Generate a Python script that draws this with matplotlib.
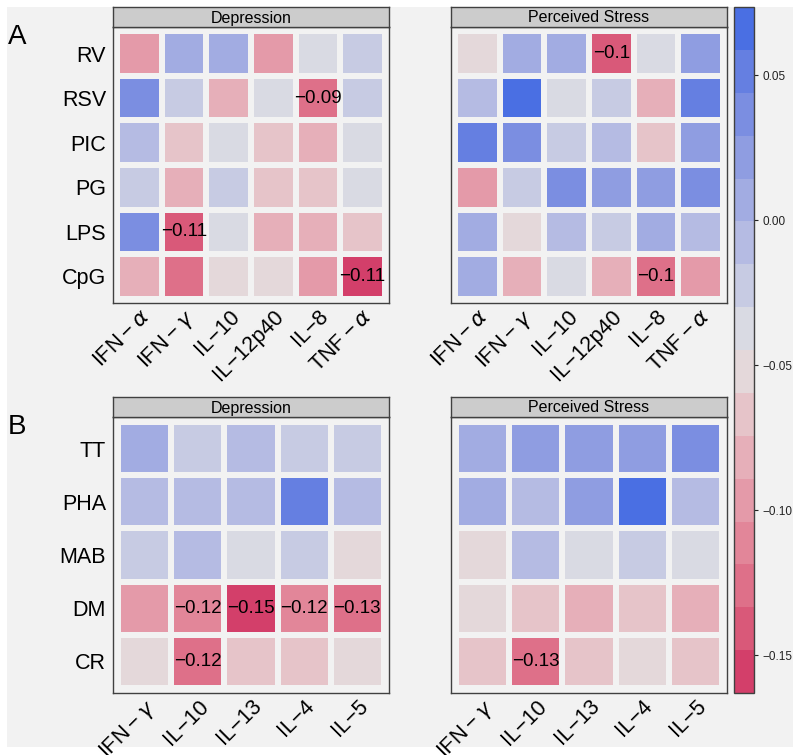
import numpy as np
import matplotlib
matplotlib.use("Agg")
import matplotlib.pyplot as plt
from matplotlib.colors import ListedColormap, BoundaryNorm
from matplotlib.cm import ScalarMappable
from matplotlib.patches import Rectangle
from matplotlib.transforms import ScaledTranslation

plt.rcParams['font.family'] = ['Liberation Sans', 'DejaVu Sans']
plt.rcParams['mathtext.fontset'] = 'dejavusans'

# ---------------- data ----------------
a_rows = ["RV", "RSV", "PIC", "PG", "LPS", "CpG"]
a_cols = ["IFN\u2009\u2212\u2009$\\alpha$", "IFN\u2009\u2212\u2009$\\gamma$", "IL\u221210",
          "IL\u221212p40", "IL\u22128", "TNF\u2009\u2212\u2009$\\alpha$"]
b_rows = ["TT", "PHA", "MAB", "DM", "CR"]
b_cols = ["IFN\u2009\u2212\u2009$\\gamma$", "IL\u221210", "IL\u221213", "IL\u22124", "IL\u22125"]
facets = ["Depression", "Perceived Stress"]

a_dep = [
    [-0.097, 0.007, 0.007, -0.097, -0.037, -0.023],
    [0.037, -0.023, -0.082, -0.037, -0.126, -0.023],
    [-0.008, -0.067, -0.037, -0.067, -0.082, -0.037],
    [-0.023, -0.082, -0.023, -0.067, -0.067, -0.037],
    [0.037, -0.141, -0.037, -0.082, -0.082, -0.067],
    [-0.082, -0.126, -0.052, -0.052, -0.097, -0.156],
]
a_ps = [
    [-0.052, 0.007, 0.007, -0.141, -0.037, 0.022],
    [-0.008, 0.066, -0.037, -0.023, -0.082, 0.051],
    [0.051, 0.037, -0.023, -0.008, -0.067, 0.022],
    [-0.097, -0.023, 0.037, 0.022, 0.022, 0.037],
    [0.007, -0.052, -0.008, -0.023, 0.007, -0.008],
    [0.007, -0.082, -0.037, -0.082, -0.126, -0.097],
]
b_dep = [
    [0.007, -0.023, -0.008, -0.023, -0.023],
    [-0.008, -0.008, -0.008, 0.051, -0.008],
    [-0.023, -0.008, -0.037, -0.023, -0.052],
    [-0.097, -0.117, -0.152, -0.117, -0.128],
    [-0.052, -0.124, -0.067, -0.067, -0.052],
]
b_ps = [
    [0.007, 0.022, 0.022, 0.022, 0.037],
    [0.007, -0.008, 0.022, 0.066, -0.008],
    [-0.052, -0.008, -0.037, -0.023, -0.037],
    [-0.052, -0.067, -0.082, -0.067, -0.082],
    [-0.067, -0.130, -0.067, -0.052, -0.067],
]

# printed labels (None = no label)
N = None
a_dep_lab = [
    [N, N, N, N, N, N],
    [N, N, N, N, -0.09, N],
    [N, N, N, N, N, N],
    [N, N, N, N, N, N],
    [N, -0.11, N, N, N, N],
    [N, N, N, N, N, -0.11],
]
a_ps_lab = [
    [N, N, N, -0.1, N, N],
    [N, N, N, N, N, N],
    [N, N, N, N, N, N],
    [N, N, N, N, N, N],
    [N, N, N, N, N, N],
    [N, N, N, N, -0.1, N],
]
b_dep_lab = [
    [N, N, N, N, N],
    [N, N, N, N, N],
    [N, N, N, N, N],
    [N, -0.12, -0.15, -0.12, -0.13],
    [N, -0.12, N, N, N],
]
b_ps_lab = [
    [N, N, N, N, N],
    [N, N, N, N, N],
    [N, N, N, N, N],
    [N, N, N, N, N],
    [N, -0.13, N, N, N],
]

key_ticks = [0.05, 0.00, -0.05, -0.10, -0.15]
KEY_MIN, KEY_MAX, N_BINS = -0.163, 0.0735, 16

# ---------------- colours (diverging HCL "Blue-Red 2") ----------------
def polarluv_to_rgb(L, C, H):
    XN, YN, ZN = 95.047, 100.0, 108.883
    h = np.deg2rad(H)
    U, V = C * np.cos(h), C * np.sin(h)
    Y = YN * ((L + 16) / 116) ** 3 if L > 8 else YN * L / 903.3
    den = XN + 15 * YN + 3 * ZN
    un, vn = 4 * XN / den, 9 * YN / den
    u = U / (13 * L) + un
    v = V / (13 * L) + vn
    X = 9.0 * Y * u / (4 * v)
    Z = -X / 3 - 5 * Y + 3 * Y / v
    X, Y, Z = X / 100, Y / 100, Z / 100
    rgb = np.array([3.240479 * X - 1.537150 * Y - 0.498535 * Z,
                    -0.969256 * X + 1.875992 * Y + 0.041556 * Z,
                    0.055648 * X - 0.204043 * Y + 1.057311 * Z])
    out = np.where(rgb <= 0.0031308, 12.92 * rgb, 1.055 * np.abs(rgb) ** (1 / 2.4) - 0.055)
    return np.clip(out, 0, 1)

def diverging_hcl(n, h1=260, h2=0, c1=100, l1=50, l2=90, p=1.0):
    cols = []
    for i in np.linspace(1, -1, n):
        a = abs(i)
        cols.append(polarluv_to_rgb(l2 - (l2 - l1) * a ** p, c1 * a ** p, h1 if i > 0 else h2))
    return cols

cmap = ListedColormap(diverging_hcl(N_BINS)[::-1])
bounds = np.linspace(KEY_MIN, KEY_MAX, N_BINS + 1)
norm = BoundaryNorm(bounds, cmap.N)

BG = '#F2F2F2'
W, H = 800, 755
fig = plt.figure(figsize=(W / 100, H / 100), dpi=100, facecolor='white')
fig.patches.append(Rectangle((7 / W, 1 - 747 / H), 786 / W, 740 / H, transform=fig.transFigure,
                             facecolor=BG, edgecolor='none', zorder=-10))

def fr(x0, y0, x1, y1):
    return [x0 / W, 1 - y1 / H, (x1 - x0) / W, (y1 - y0) / H]

def fmt(v):
    return f"{v:g}".replace('-', '\u2212')

def panel(box, title, vals, labs, rows, cols, show_rows):
    x0, y0, x1, y1 = box
    ax = fig.add_axes(fr(x0, y0, x1, y1))
    ax.set_facecolor(BG)
    z = np.array(vals, dtype=float)
    nr, nc = z.shape
    ax.pcolormesh(np.arange(nc + 1) - 0.5, np.arange(nr + 1) - 0.5, z, cmap=cmap, norm=norm,
                  edgecolors=BG, linewidth=3.0)
    ax.set_xlim(-0.6, nc - 0.4)
    ax.set_ylim(nr - 0.4, -0.6)
    ax.set_xticks(range(nc))
    ax.set_xticklabels(cols, rotation=45, ha='right', va='top', rotation_mode='anchor',
                       fontsize=15.5)
    shift = ScaledTranslation(4 / 100, 0, fig.dpi_scale_trans)
    for lab in ax.get_xticklabels():
        lab.set_transform(lab.get_transform() + shift)
    ax.set_yticks(range(nr))
    ax.set_yticklabels(rows if show_rows else [''] * nr, fontsize=15.5)
    ax.tick_params(length=0, pad=5)
    ax.tick_params(axis='x', pad=2)
    for s in ax.spines.values():
        s.set_edgecolor('#404040')
        s.set_linewidth(1.0)
    for i in range(nr):
        for j in range(nc):
            if labs[i][j] is not None:
                ax.text(j, i, fmt(labs[i][j]), ha='center', va='center', fontsize=13.5,
                        color='black')
    sax = fig.add_axes(fr(x0, y0 - 20, x1, y0))
    sax.set_facecolor('#CCCCCC')
    sax.set_xticks([]); sax.set_yticks([])
    for s in sax.spines.values():
        s.set_edgecolor('#404040')
        s.set_linewidth(1.0)
    sax.text(0.5, 0.45, title, ha='center', va='center', fontsize=11.5, transform=sax.transAxes)
    return ax

panel((113, 27, 389, 303), facets[0], a_dep, a_dep_lab, a_rows, a_cols, True)
panel((451, 27, 727, 303), facets[1], a_ps, a_ps_lab, a_rows, a_cols, False)
panel((113, 417, 389, 693), facets[0], b_dep, b_dep_lab, b_rows, b_cols, True)
panel((451, 417, 727, 693), facets[1], b_ps, b_ps_lab, b_rows, b_cols, False)

cax = fig.add_axes(fr(734, 7, 754, 693))
cb = fig.colorbar(ScalarMappable(norm=norm, cmap=cmap), cax=cax, ticks=key_ticks)
cb.ax.set_yticklabels([f"{t:.2f}".replace('-', '\u2212') for t in key_ticks])
cb.outline.set_edgecolor('#404040')
cb.outline.set_linewidth(1.0)
cb.ax.tick_params(length=3, width=0.8, labelsize=8.5, pad=3, colors='#222222')
cb.ax.minorticks_off()

fig.text(8 / W, 1 - 37 / H, 'A', fontsize=20, ha='left', va='center')
fig.text(8 / W, 1 - 427 / H, 'B', fontsize=20, ha='left', va='center')

fig.savefig('out.png', dpi=100, facecolor='white')
